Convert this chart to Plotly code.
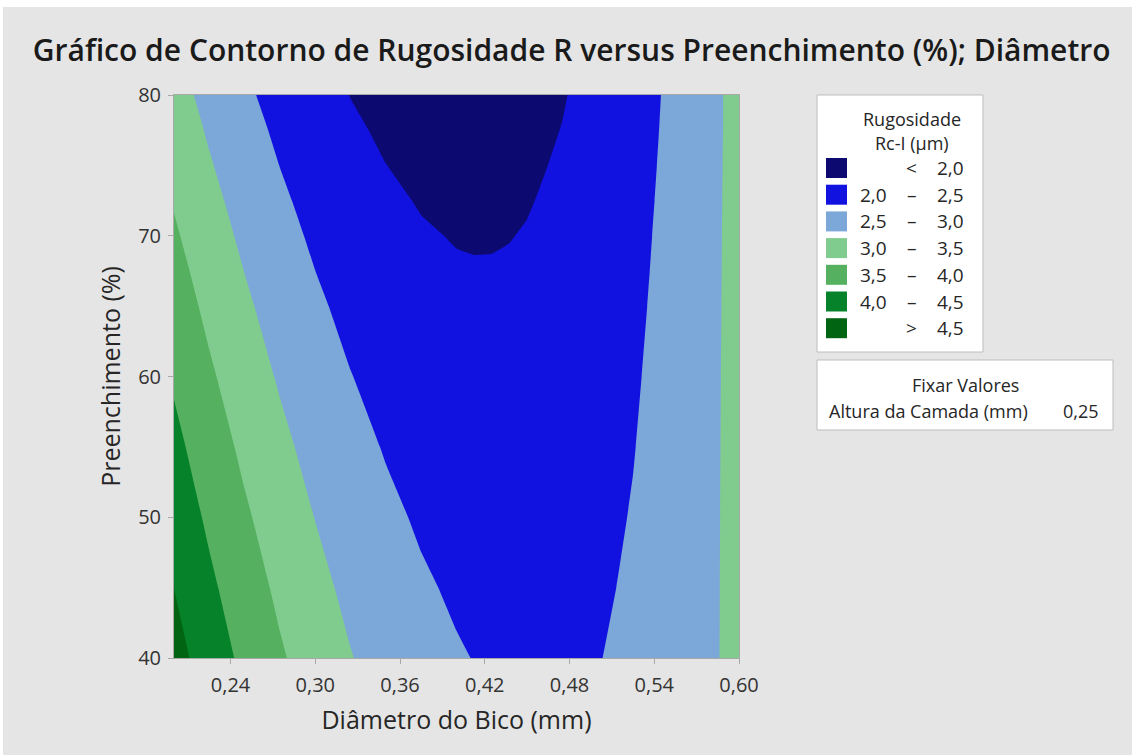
import plotly.graph_objects as go

# Diâmetro do Bico (mm) – colunas da grade
diametro = [0.200, 0.225, 0.250, 0.275, 0.300, 0.325, 0.350, 0.375, 0.400, 0.4125,
            0.425, 0.4375, 0.450, 0.475, 0.500, 0.525, 0.550, 0.575, 0.600]

# Preenchimento (%) – linhas da grade
preenchimento = [40, 45, 50, 55, 60, 65, 67.5, 70, 72.5, 75, 77.5, 80]

# Rugosidade Rc-I (µm) com Altura da Camada fixa em 0,25 mm
rugosidade = [
    [4.682, 4.264, 3.889, 3.556, 3.267, 3.019, 2.815, 2.654, 2.535, 2.491, 2.459, 2.437, 2.425, 2.435, 2.487, 2.582, 2.719, 2.900, 3.123],
    [4.498, 4.092, 3.728, 3.408, 3.130, 2.894, 2.702, 2.552, 2.445, 2.407, 2.381, 2.364, 2.359, 2.380, 2.444, 2.551, 2.700, 2.893, 3.128],
    [4.312, 3.917, 3.566, 3.257, 2.991, 2.767, 2.587, 2.449, 2.354, 2.322, 2.302, 2.292, 2.292, 2.325, 2.401, 2.520, 2.681, 2.885, 3.132],
    [4.126, 3.743, 3.403, 3.107, 2.852, 2.641, 2.472, 2.346, 2.263, 2.237, 2.222, 2.218, 2.224, 2.269, 2.357, 2.487, 2.661, 2.877, 3.135],
    [3.938, 3.567, 3.239, 2.954, 2.712, 2.512, 2.356, 2.242, 2.170, 2.151, 2.142, 2.143, 2.156, 2.213, 2.312, 2.455, 2.640, 2.868, 3.139],
    [3.750, 3.392, 3.076, 2.802, 2.572, 2.384, 2.239, 2.137, 2.077, 2.064, 2.060, 2.068, 2.086, 2.155, 2.267, 2.421, 2.618, 2.858, 3.140],
    [3.656, 3.303, 2.993, 2.726, 2.501, 2.319, 2.180, 2.084, 2.030, 2.020, 2.020, 2.030, 2.052, 2.126, 2.244, 2.404, 2.607, 2.853, 3.141],
    [3.561, 3.214, 2.910, 2.649, 2.430, 2.254, 2.121, 2.031, 1.983, 1.976, 1.979, 1.992, 2.017, 2.097, 2.221, 2.387, 2.596, 2.848, 3.142],
    [3.467, 3.126, 2.828, 2.572, 2.360, 2.190, 2.062, 1.978, 1.936, 1.931, 1.937, 1.954, 1.981, 2.068, 2.197, 2.369, 2.584, 2.841, 3.142],
    [3.372, 3.037, 2.745, 2.495, 2.288, 2.124, 2.003, 1.925, 1.889, 1.887, 1.896, 1.915, 1.946, 2.038, 2.173, 2.351, 2.572, 2.836, 3.142],
    [3.278, 2.949, 2.662, 2.419, 2.218, 2.059, 1.944, 1.871, 1.841, 1.842, 1.854, 1.877, 1.910, 2.008, 2.149, 2.333, 2.560, 2.829, 3.141],
    [3.181, 2.858, 2.577, 2.340, 2.145, 1.993, 1.884, 1.817, 1.794, 1.798, 1.813, 1.838, 1.874, 1.979, 2.126, 2.316, 2.549, 2.824, 3.143],
]

# Níveis de contorno e cores das faixas (da menor para a maior)
nivel_inicial = 2.0
nivel_final = 4.5
passo = 0.5
cores = ["#0C0A70", "#1212E0", "#7CA7D9", "#80CC8E", "#55B05F", "#05822A", "#006413"]

# Rótulos da legenda
legenda_inf = ["", "2,0", "2,5", "3,0", "3,5", "4,0", ""]
legenda_sep = ["<", "–", "–", "–", "–", "–", ">"]
legenda_sup = ["2,0", "2,5", "3,0", "3,5", "4,0", "4,5", "4,5"]

marcas_x = [0.24, 0.30, 0.36, 0.42, 0.48, 0.54, 0.60]
marcas_y = [40, 50, 60, 70, 80]

W, H = 1132, 755
L, R, T, B = 174, 739, 95, 658
FONTE = "Open Sans, Noto Sans, sans-serif"
FUNDO = "#E5E5E5"
BORDA = "#A8A8A8"
TEXTO = "#262626"


def px(x):
    return (x - L) / (R - L)


def py(y):
    return (B - y) / (B - T)


n = len(cores) - 1
escala = [[i / n, c] for i, c in enumerate(cores)]

fig = go.Figure(
    go.Contour(
        x=diametro,
        y=preenchimento,
        z=rugosidade,
        autocontour=False,
        contours=dict(start=nivel_inicial, end=nivel_final, size=passo,
                      coloring="fill", showlines=False),
        line=dict(width=0, smoothing=0.3),
        colorscale=escala,
        showscale=False,
        hoverinfo="skip",
    )
)

shapes = []
annotations = []

# faixa branca na borda superior e esquerda da imagem
shapes.append(dict(type="rect", xref="paper", yref="paper", layer="below",
                   x0=px(0), x1=px(W), y0=py(7), y1=py(-2),
                   fillcolor="white", line=dict(width=0)))
shapes.append(dict(type="rect", xref="paper", yref="paper", layer="below",
                   x0=px(-2), x1=px(3), y0=py(W), y1=py(-2),
                   fillcolor="white", line=dict(width=0)))


def texto(t, x, y, anchor="center", size=19):
    annotations.append(dict(text=t, x=px(x), y=py(y), xref="paper", yref="paper",
                            showarrow=False, xanchor=anchor, yanchor="middle",
                            font=dict(size=size, color=TEXTO, family=FONTE)))


# caixa da legenda
shapes.append(dict(type="rect", xref="paper", yref="paper",
                   x0=px(817), x1=px(983), y0=py(352), y1=py(95),
                   fillcolor="white", line=dict(color="#BDBDBD", width=1)))
texto("Rugosidade", 912, 119, size=18)
texto("Rc-I (µm)", 912, 143, size=18)
for i, cor in enumerate(cores):
    yc = 168 + i * 26.7
    shapes.append(dict(type="rect", xref="paper", yref="paper",
                       x0=px(826), x1=px(847), y0=py(yc + 10), y1=py(yc - 10),
                       fillcolor=cor, line=dict(width=0)))
    if legenda_inf[i]:
        texto(legenda_inf[i], 889, yc, anchor="right")
    texto(legenda_sep[i], 912, yc)
    texto(legenda_sup[i], 966, yc, anchor="right")

# caixa de valores fixos
shapes.append(dict(type="rect", xref="paper", yref="paper",
                   x0=px(817), x1=px(1113), y0=py(430), y1=py(360),
                   fillcolor="white", line=dict(color="#BDBDBD", width=1)))
texto("Fixar Valores", 965, 385, size=18)
texto("Altura da Camada (mm)", 827, 411, anchor="left", size=18)
texto("0,25", 1101, 411, anchor="right", size=18)

eixo = dict(showgrid=False, zeroline=False, showline=True, linecolor=BORDA, linewidth=1,
            mirror=True, ticks="outside", ticklen=5, tickcolor=BORDA,
            tickfont=dict(size=20, color="#333333", family=FONTE))

fig.update_layout(
    width=W, height=H,
    margin=dict(l=L, r=W - R, t=T, b=H - B),
    paper_bgcolor=FUNDO,
    plot_bgcolor=FUNDO,
    separators=",.",
    shapes=shapes,
    annotations=annotations,
    title=dict(text="Gráfico de Contorno de Rugosidade R versus Preenchimento (%); Diâmetro",
               xref="container", yref="container", x=0.505, y=1 - 50 / H,
               xanchor="center", yanchor="middle",
               font=dict(size=30, color="#1A1A1A", family=FONTE, weight=600)),
    xaxis=dict(eixo, range=[0.20, 0.60], tickvals=marcas_x, tickformat=".2f",
               ticklabelstandoff=4,
               title=dict(text="Diâmetro do Bico (mm)", standoff=14,
                          font=dict(size=25, color=TEXTO, family=FONTE))),
    yaxis=dict(eixo, range=[40, 80], tickvals=marcas_y, ticklabelstandoff=3,
               title=dict(text="Preenchimento (%)", standoff=10,
                          font=dict(size=25, color=TEXTO, family=FONTE))),
)

fig.write_html("out.html")
